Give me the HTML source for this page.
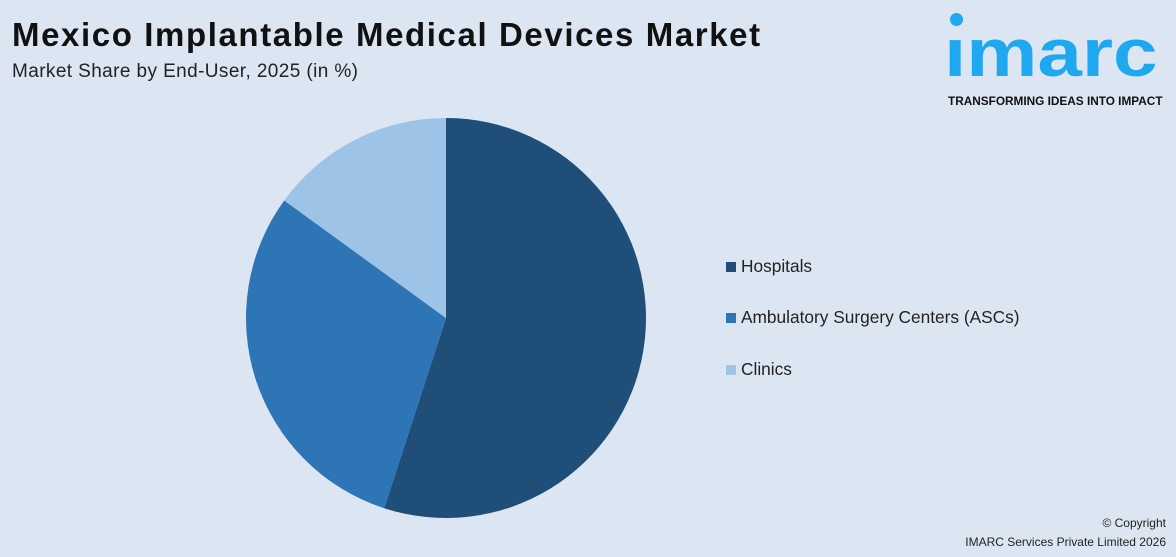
<!DOCTYPE html>
<html><head><meta charset="utf-8"><style>
body{margin:0;width:1176px;height:557px;background:#dce6f2;font-family:"Liberation Sans",sans-serif;position:relative;overflow:hidden}
.t{position:absolute;left:12px;top:16px;font-size:33px;font-weight:bold;color:#111;letter-spacing:1.6px}
.s{position:absolute;left:12px;top:61px;font-size:19px;color:#222;letter-spacing:0.4px}
.leg{position:absolute;left:726px;font-size:17.3px;color:#222}
.leg span{display:inline-block;width:10px;height:10px;margin-right:5px}
.c{position:absolute;right:10px;font-size:12px;color:#222;text-align:right}
</style></head><body>
<div class="t">Mexico Implantable Medical Devices Market</div>
<div class="s">Market Share by End-User, 2025 (in %)</div>
<div style="position:absolute;left:946px;top:8px;width:230px;height:100px">
<div style="position:absolute;left:4px;top:5px;width:13px;height:13px;border-radius:50%;background:#1ea8f0"></div>
<div style="position:absolute;left:-2px;top:10px;font-size:80px;font-weight:bold;color:#1ea8f0;letter-spacing:0px;line-height:82px;transform:scaleY(0.85);transform-origin:top left">ımarc</div>
<div style="position:absolute;left:2px;top:86px;font-size:11.8px;font-weight:bold;color:#111;white-space:nowrap">TRANSFORMING IDEAS INTO IMPACT</div>
</div>
<svg id="pie" width="1176" height="557" style="position:absolute;left:0;top:0"></svg>
<div class="leg" style="top:256px"><span style="background:#1f4e79"></span>Hospitals</div>
<div class="leg" style="top:307px"><span style="background:#2e75b6"></span>Ambulatory Surgery Centers (ASCs)</div>
<div class="leg" style="top:359px"><span style="background:#9dc3e6"></span>Clinics</div>
<div class="c" style="top:516px">© Copyright</div>
<div class="c" style="top:535px">IMARC Services Private Limited 2026</div>
<script>
const categories=["Hospitals","Ambulatory Surgery Centers (ASCs)","Clinics"];
const values=[55,30,15];
const colors=["#1f4e79","#2e75b6","#9dc3e6"];
const svg=document.getElementById('pie');
const cx=446,cy=318,r=200;
const total=values.reduce((a,b)=>a+b,0);
let a0=0;
values.forEach((v,i)=>{
  const a1=a0+v/total*2*Math.PI;
  const x0=cx+r*Math.sin(a0),y0=cy-r*Math.cos(a0),x1=cx+r*Math.sin(a1),y1=cy-r*Math.cos(a1);
  const p=document.createElementNS('http://www.w3.org/2000/svg','path');
  p.setAttribute('d',`M${cx},${cy}L${x0},${y0}A${r},${r} 0 ${a1-a0>Math.PI?1:0} 1 ${x1},${y1}Z`);
  p.setAttribute('fill',colors[i]);
  
  
  svg.appendChild(p);
  a0=a1;
});
</script>
</body></html>
